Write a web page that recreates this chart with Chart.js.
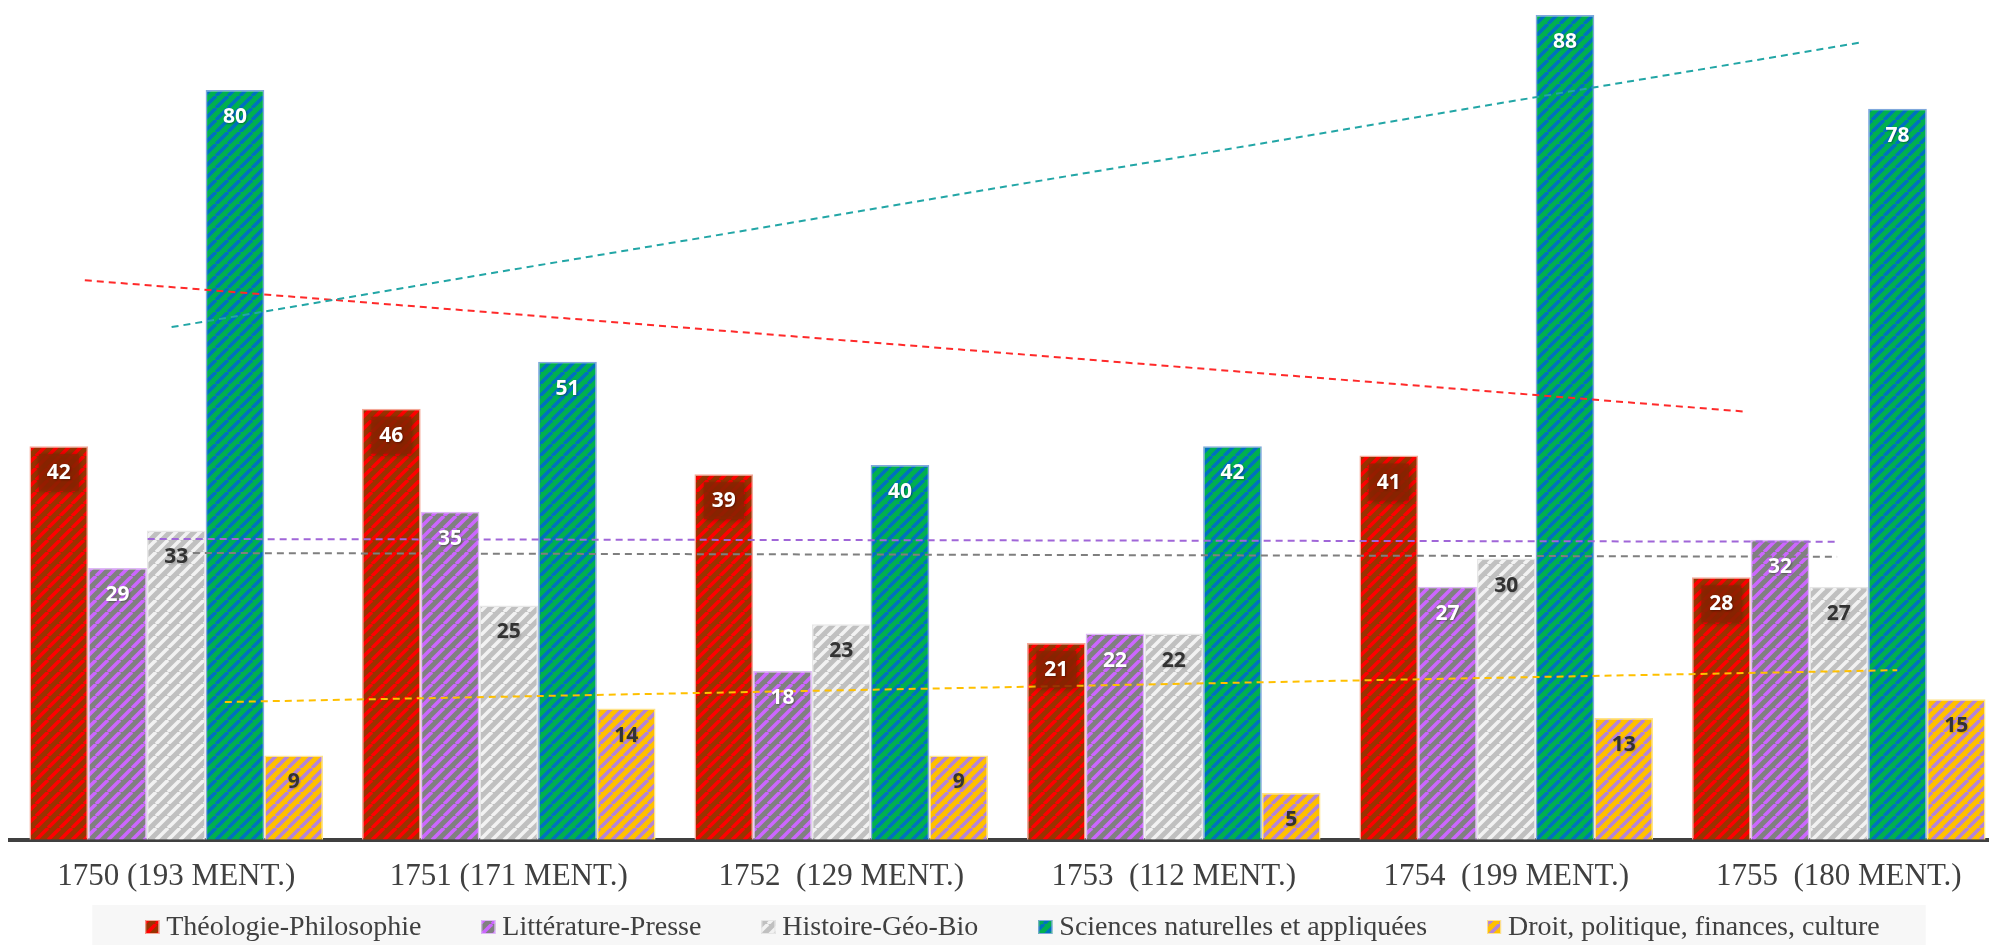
<!DOCTYPE html>
<html lang="fr">
<head>
<meta charset="utf-8">
<title>Mentions par domaine, 1750-1755</title>
<script src="https://cdn.jsdelivr.net/npm/chart.js@4.4.1/dist/chart.umd.min.js"></script>
<style>
    html, body { margin: 0; padding: 0; background: #fff; overflow: hidden; }
    #wrap { position: relative; width: 2005px; height: 945px; }
</style>
</head>
<body>
<div id="wrap"><canvas id="chart"></canvas></div>
<script>
// Données
const annees = ['1750 (193 MENT.)', '1751 (171 MENT.)', '1752  (129 MENT.)',
                '1753  (112 MENT.)', '1754  (199 MENT.)', '1755  (180 MENT.)'];
const domaines = ['Théologie-Philosophie', 'Littérature-Presse', 'Histoire-Géo-Bio',
                  'Sciences naturelles et appliquées', 'Droit, politique, finances, culture'];

const theologie   = [42, 46, 39, 21, 41, 28];
const litterature = [29, 35, 18, 22, 27, 32];
const histoire    = [33, 25, 23, 22, 30, 27];
const sciences    = [80, 51, 40, 42, 88, 78];
const droit       = [9, 14, 9, 5, 13, 15];

// Courbes de tendance : [indice d'année, valeur] au début et à la fin
const tendTheologie   = [[-0.275, 59.7], [4.713, 45.7]];
const tendLitterature = [[-0.086, 32.1], [4.995, 31.8]];
const tendHistoire    = [[0.05, 30.6], [4.995, 30.2]];
const tendSciences    = [[-0.014, 54.7], [5.071, 85.1]];
const tendDroit       = [[0.146, 14.7], [5.176, 18.1]];

// Motif hachuré en diagonale
function hachures(fond, trait) {
    const taille = 12;
    const c = document.createElement('canvas');
    c.width = c.height = taille;
    const ctx = c.getContext('2d');
    ctx.fillStyle = fond;
    ctx.fillRect(0, 0, taille, taille);
    ctx.strokeStyle = trait;
    ctx.lineWidth = 3.5;
    for (const k of [-1, 0, 1]) {
        ctx.beginPath();
        ctx.moveTo(k * taille, taille);
        ctx.lineTo(k * taille + taille, 0);
        ctx.stroke();
    }
    return document.createElement('canvas').getContext('2d').createPattern(c, 'repeat');
}

const series = [
    { valeurs: theologie,   tend: tendTheologie,   motif: hachures('#993300', '#FF0000'), bord: '#F4A898', texte: '#FFFFFF', ligne: '#FF2A2A', boite: true },
    { valeurs: litterature, tend: tendLitterature, motif: hachures('#808080', '#CC66FF'), bord: '#DDB8F5', texte: '#FFFFFF', ligne: '#A066D8' },
    { valeurs: histoire,    tend: tendHistoire,    motif: hachures('#C0C0C0', '#F2F2F2'), bord: '#E6E6E6', texte: '#333333', ligne: '#7F7F7F' },
    { valeurs: sciences,    tend: tendSciences,    motif: hachures('#00B050', '#0070C0'), bord: '#7FA8DC', texte: '#FFFFFF', ligne: '#22A6A6' },
    { valeurs: droit,       tend: tendDroit,       motif: hachures('#FFC000', '#B383D9'), bord: '#FFE38A', texte: '#333333', ligne: '#FFC000' }
];

// Courbes de tendance en pointillés, placées avec les échelles du graphique
const tendances = {
    id: 'tendances',
    afterDatasetsDraw(chart) {
        const { ctx, scales: { x, y } } = chart;
        const n = annees.length;
        ctx.save();
        ctx.lineWidth = 2;
        ctx.setLineDash([7, 5]);
        series.forEach(s => {
            ctx.strokeStyle = s.ligne;
            ctx.beginPath();
            s.tend.forEach(([i, v], k) => {
                const px = x.getPixelForDecimal((i + 0.5) / n);
                const py = y.getPixelForValue(v);
                if (k === 0) ctx.moveTo(px, py); else ctx.lineTo(px, py);
            });
            ctx.stroke();
        });
        ctx.restore();
    }
};

// Valeurs dans les barres
const etiquettes = {
    id: 'etiquettes',
    afterDatasetsDraw(chart) {
        const ctx = chart.ctx;
        ctx.save();
        ctx.font = 'bold 21px "Open Sans"';
        ctx.textAlign = 'center';
        ctx.textBaseline = 'middle';
        series.forEach((s, i) => {
            chart.getDatasetMeta(i).data.forEach((barre, j) => {
                const x = barre.x;
                const y = barre.y + 26;
                if (s.boite) {
                    ctx.save();
                    ctx.shadowColor = 'rgba(0,0,0,0.35)';
                    ctx.shadowBlur = 6;
                    ctx.fillStyle = 'rgba(140,35,0,0.82)';
                    ctx.fillRect(x - 20, y - 18, 40, 37);
                    ctx.restore();
                }
                ctx.shadowColor = s.texte === '#FFFFFF' ? 'rgba(0,0,0,0.35)' : 'rgba(0,0,0,0.2)';
                ctx.shadowBlur = 2;
                ctx.shadowOffsetX = 1;
                ctx.shadowOffsetY = 1;
                ctx.fillStyle = s.texte;
                ctx.fillText(String(s.valeurs[j]), x, y + 1);
                ctx.shadowColor = 'transparent';
            });
        });
        ctx.restore();
    }
};

// Légende en bas, sur fond gris clair
const legende = {
    id: 'legende',
    afterDraw(chart) {
        const ctx = chart.ctx;
        const carre = 14, ecart = 7, espace = 60;
        ctx.save();
        ctx.font = '28px "Liberation Serif", serif';
        const largeurs = domaines.map(t => ctx.measureText(t).width);
        const total = largeurs.reduce((a, b) => a + b, 0) + domaines.length * (carre + ecart) + (domaines.length - 1) * espace;
        let x = chart.width / 2 + 10 - total / 2;
        const yMilieu = 927;
        ctx.fillStyle = '#F7F7F7';
        ctx.fillRect(x - 53, 905, total + 99, 45);
        ctx.textBaseline = 'middle';
        domaines.forEach((texte, i) => {
            const s = series[i];
            ctx.fillStyle = s.motif;
            ctx.fillRect(x, yMilieu - carre / 2, carre, carre);
            ctx.strokeStyle = s.bord;
            ctx.lineWidth = 1;
            ctx.strokeRect(x + 0.5, yMilieu - carre / 2 + 0.5, carre - 1, carre - 1);
            ctx.fillStyle = '#404040';
            ctx.fillText(texte, x + carre + ecart, yMilieu + 1);
            x += carre + ecart + largeurs[i] + espace;
        });
        ctx.restore();
    }
};

new Chart(document.getElementById('chart'), {
    type: 'bar',
    data: {
        labels: annees,
        datasets: series.map((s, i) => ({
            label: domaines[i],
            data: s.valeurs,
            backgroundColor: s.motif,
            borderColor: s.bord,
            borderWidth: 1.5,
            categoryPercentage: 0.883,
            barPercentage: 1
        }))
    },
    options: {
        responsive: true,
        maintainAspectRatio: false,
        animation: false,
        layout: { padding: { left: 10, right: 0, top: 0, bottom: 32 } },
        plugins: {
            legend: { display: false },
            tooltip: { enabled: false }
        },
        scales: {
            x: {
                grid: { display: false, drawTicks: false },
                border: { display: true, color: '#404040', width: 4 },
                ticks: {
                    color: '#404040',
                    font: { family: '"Liberation Serif", serif', size: 31 },
                    padding: 18,
                    maxRotation: 0,
                    autoSkip: false
                }
            },
            y: { display: false, min: 0, max: 89.6 }
        }
    },
    plugins: [tendances, etiquettes, legende]
});
</script>
</body>
</html>
